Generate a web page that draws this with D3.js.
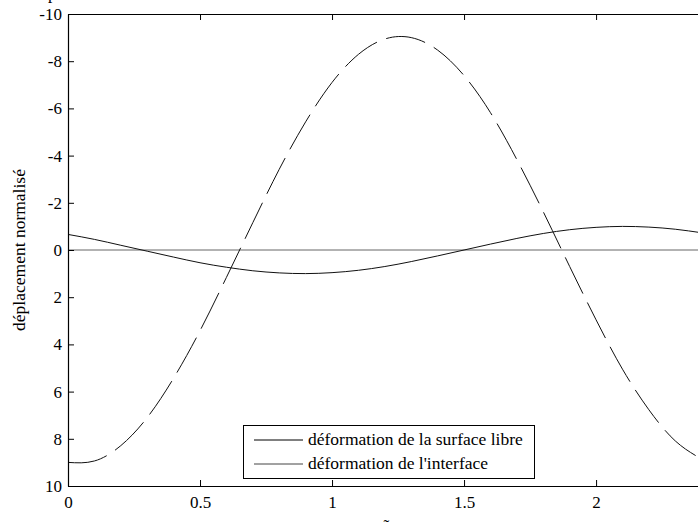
<!DOCTYPE html>
<html>
<head>
<meta charset="utf-8">
<script src="https://cdn.jsdelivr.net/npm/d3@7"></script>
<style>
  html, body { margin: 0; padding: 0; background: #fff; overflow: hidden; }
  svg { display: block; }
  text { font-family: "Liberation Serif", "Times New Roman", serif; fill: #000; }
</style>
</head>
<body>
<svg id="chart" width="698" height="522"></svg>
<script>
// ---- data ----
const xValues = [0, 0.1, 0.2, 0.3, 0.4, 0.5, 0.6, 0.7, 0.8, 0.9, 1.0, 1.1, 1.2,
                 1.3, 1.4, 1.5, 1.6, 1.7, 1.8, 1.9, 2.0, 2.1, 2.2, 2.3, 2.4];
const surfaceLibre = [-0.66, -0.45, -0.20, 0.05, 0.30, 0.54, 0.73, 0.88, 0.97, 1.00, 0.96, 0.86, 0.70,
                      0.49, 0.25, 0.00, -0.25, -0.49, -0.70, -0.86, -0.96, -1.00, -0.97, -0.88, -0.73];
const interfaceDef = [9.00, 8.94, 8.29, 7.10, 5.43, 3.42, 1.16, -1.16, -3.42, -5.43, -7.10, -8.29, -8.94,
                      -9.00, -8.47, -7.39, -5.82, -3.83, -1.62, 0.70, 2.96, 5.05, 6.77, 8.09, 8.86];
const xTicks = [0, 0.5, 1, 1.5, 2];
const xTickLabels = ["0", "0.5", "1", "1.5", "2"];
const yTicks = [-10, -8, -6, -4, -2, 0, 2, 4, 6, 8, 10];
const yTickLabels = ["-10", "-8", "-6", "-4", "-2", "0", "2", "4", "6", "8", "10"];
const legendLabels = ["déformation de la surface libre", "déformation de l'interface"];
const yLabel = "déplacement normalisé";
const xLabel = "x\u0303";
const titleText = "p";

// ---- layout ----
const svg = d3.select("#chart");
const L = 68, R = 698, T = 14, B = 486;
const x = d3.scaleLinear().domain([0, 2.386]).range([L, R]);
const y = d3.scaleLinear().domain([-10, 10]).range([T, B]);
const fs = 17;

// zero line
svg.append("line")
  .attr("x1", L).attr("x2", R).attr("y1", y(0)).attr("y2", y(0))
  .attr("stroke", "#666").attr("stroke-width", 1);

svg.append("clipPath").attr("id", "pc").append("rect")
  .attr("x", L).attr("y", T).attr("width", R - L).attr("height", B - T);

const line = d3.line().x((d, i) => x(xValues[i])).y(d => y(d)).curve(d3.curveNatural);

svg.append("path").datum(surfaceLibre)
  .attr("clip-path", "url(#pc)")
  .attr("d", line).attr("fill", "none").attr("stroke", "#111").attr("stroke-width", 1);

svg.append("path").datum(interfaceDef)
  .attr("clip-path", "url(#pc)")
  .attr("d", line).attr("fill", "none").attr("stroke", "#111").attr("stroke-width", 1)
  .attr("stroke-dasharray", "40,10");

// axes
const yAxis = d3.axisLeft(y).tickValues(yTicks)
  .tickFormat((d, i) => yTickLabels[i]).tickSizeInner(-6).tickSizeOuter(0).tickPadding(6);
const gy = svg.append("g").attr("transform", `translate(${L},0)`).call(yAxis);
gy.selectAll("text").style("font-size", fs + "px").attr("fill", "#000");

const xAxis = d3.axisBottom(x).tickValues(xTicks)
  .tickFormat((d, i) => xTickLabels[i]).tickSizeInner(-6).tickSizeOuter(0).tickPadding(10);
const gx = svg.append("g").attr("transform", `translate(0,${B})`).call(xAxis);
gx.selectAll("text").style("font-size", fs + "px").attr("fill", "#000");

const xAxisTop = d3.axisTop(x).tickValues(xTicks).tickFormat("").tickSizeInner(-6).tickSizeOuter(0);
const gt = svg.append("g").attr("transform", `translate(0,${T})`).call(xAxisTop);

[gx, gy, gt].forEach(g => {
  g.select(".domain").attr("stroke", "#000").attr("stroke-width", 1.2);
  g.selectAll(".tick line").attr("stroke", "#000");
});

// axis labels
svg.append("text")
  .attr("transform", `translate(25,${(T + B) / 2}) rotate(-90)`)
  .attr("text-anchor", "middle").style("font-size", "17.5px").text(yLabel);

svg.append("text")
  .attr("x", 386).attr("y", 531).attr("text-anchor", "middle")
  .style("font-size", fs + "px").text(xLabel);

// partially visible title (cut by the top edge in the reference)
svg.append("text")
  .attr("x", 48).attr("y", -1).style("font-size", fs + "px").text(titleText);

// legend
const lg = svg.append("g");
lg.append("rect").attr("x", 243.5).attr("y", 425.5).attr("width", 291).attr("height", 53)
  .attr("fill", "#fff").attr("stroke", "#000").attr("stroke-width", 1);
const rowsY = [440, 464];
legendLabels.forEach((lab, i) => {
  lg.append("line").attr("x1", 254).attr("x2", 303).attr("y1", rowsY[i]).attr("y2", rowsY[i])
    .attr("stroke", i === 0 ? "#000" : "#444").attr("stroke-width", 1);
  lg.append("text").attr("x", 308).attr("y", rowsY[i] + 5).style("font-size", "17.5px").text(lab);
});
</script>
</body>
</html>
